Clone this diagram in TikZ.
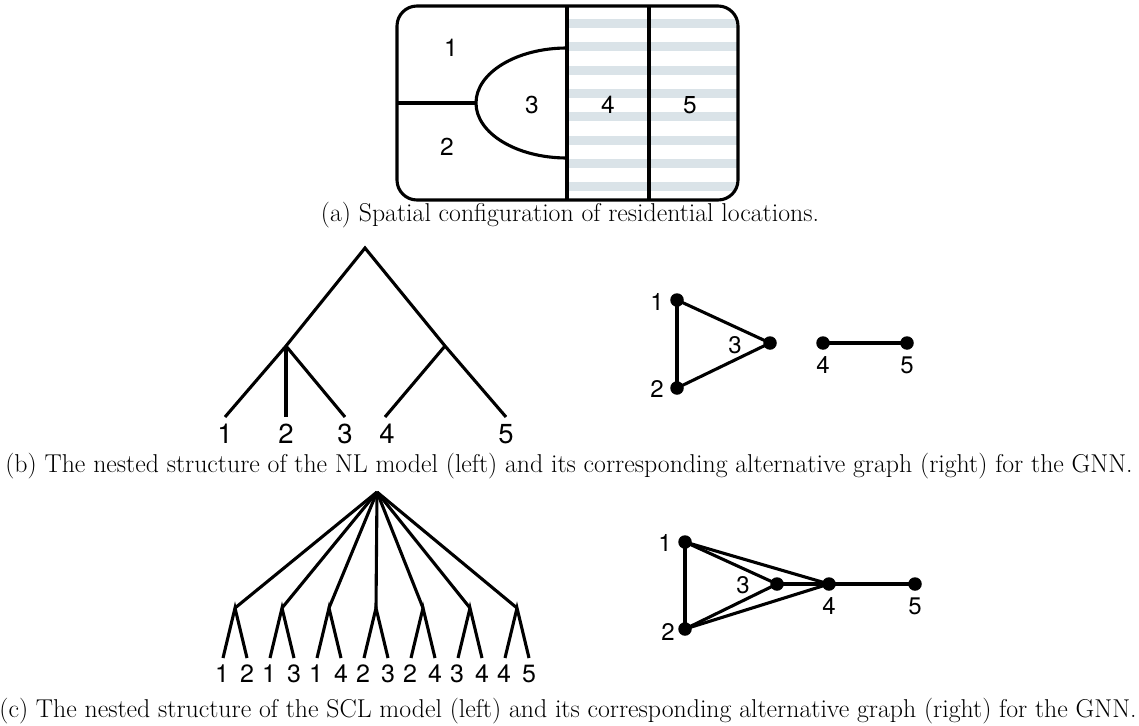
\documentclass[tikz,border=0pt]{standalone}
\usepackage{fontspec}
\newfontfamily\lab{TeX Gyre Heros}
\definecolor{stripe}{RGB}{218,227,232}
\begin{document}
\begin{tikzpicture}[x=1pt,y=-1pt,line width=3.1pt,
  lbla/.style={inner sep=0pt,font=\lab\fontsize{24.5}{24.5}\selectfont},
  lblb/.style={inner sep=0pt,font=\lab\fontsize{27.5}{27.5}\selectfont},
  lblg/.style={inner sep=0pt,font=\lab\fontsize{24}{24}\selectfont},
  lblc/.style={inner sep=0pt,font=\lab\fontsize{25}{25}\selectfont},
  dot/.style={circle,fill=black,inner sep=0pt,minimum size=13.5pt},
  capt/.style={inner sep=0pt,font=\fontsize{25.8}{30}\selectfont}]
\useasboundingbox (0,0) rectangle (1139,725);
% ---------- (a)
\begin{scope}
  \clip[rounded corners=20pt] (397,6) rectangle (738,200);
  \foreach \k in {0,...,7}
    \fill[stripe] (567,{19+23.3*\k}) rectangle (738,{28+23.3*\k});
\end{scope}
\draw[rounded corners=20pt] (397,6) rectangle (738,200);
\draw (567,6) -- (567,200);
\draw (649,6) -- (649,200);
\draw (397,103) -- (476,103);
\draw (567,48) arc[start angle=-90,end angle=-270,x radius=91,y radius=55];
\node[lbla] (a1) at (451,48) {1};
\node[lbla] (a2) at (447,147) {2};
\node[lbla] (a3) at (532,105) {3};
\node[lbla] (a4) at (608,105) {4};
\node[lbla] (a5) at (690,105) {5};
\node[capt] (capa) at (570,215) {(a) Spatial configuration of residential locations.};
% ---------- (b) tree
\coordinate (broot) at (365,248);
\coordinate (bL) at (286,346);
\coordinate (bR) at (445,346);
\coordinate (bl1) at (225,417);
\coordinate (bl2) at (286,417);
\coordinate (bl3) at (345,417);
\coordinate (bl4) at (385,417);
\coordinate (bl5) at (506,417);
\draw (bl1) -- (bL) -- (broot) -- (bR) -- (bl5);
\draw (bL) -- (bl2);
\draw (bL) -- (bl3);
\draw (bR) -- (bl4);
\node[lblb] (bt1) at (225,434) {1};
\node[lblb] (bt2) at (286,434) {2};
\node[lblb] (bt3) at (345,434) {3};
\node[lblb] (bt4) at (387,434) {4};
\node[lblb] (bt5) at (506,434) {5};
% ---------- (b) graph
\node[dot] (n1) at (677,300) {};
\node[dot] (n2) at (677,388) {};
\node[dot] (n3) at (770,343) {};
\node[dot] (n4) at (823,343) {};
\node[dot] (n5) at (907,343) {};
\draw (n1.center) -- (n2.center);
\draw (n1.center) -- (n3.center);
\draw (n2.center) -- (n3.center);
\draw (n4.center) -- (n5.center);
\node[lblg] (g1) at (657,302) {1};
\node[lblg] (g2) at (657,389) {2};
\node[lblg] (g3) at (735,345) {3};
\node[lblg] (g4) at (823,365) {4};
\node[lblg] (g5) at (907,365) {5};
\node[capt] (capb) at (569,466) {(b) The nested structure of the NL model (left) and its corresponding alternative graph (right) for the GNN.};
% ---------- (c) tree
\coordinate (croot) at (377,492);
\foreach \i/\a/\b in {0/1/2,1/1/3,2/1/4,3/2/3,4/2/4,5/3/4,6/4/5}{
  \coordinate (ci\i) at ({235+47*\i},608);
  \coordinate (cl\i) at ({223+47*\i},658);
  \coordinate (cr\i) at ({247+47*\i},658);
  \draw (croot) -- (ci\i);
  \draw (cl\i) -- (ci\i) -- (cr\i);
  \node[lblc] (ctl\i) at ({222+47*\i},674) {\a};
  \node[lblc] (ctr\i) at ({247+47*\i},674) {\b};
}
% ---------- (c) graph
\node[dot] (m1) at (685,542) {};
\node[dot] (m2) at (685,629) {};
\node[dot] (m3) at (777,584) {};
\node[dot] (m4) at (829,584) {};
\node[dot] (m5) at (915,584) {};
\draw (m1.center) -- (m2.center);
\draw (m1.center) -- (m3.center);
\draw (m1.center) -- (m4.center);
\draw (m2.center) -- (m3.center);
\draw (m2.center) -- (m4.center);
\draw (m3.center) -- (m4.center);
\draw (m4.center) -- (m5.center);
\node[lblg] (h1) at (665,543) {1};
\node[lblg] (h2) at (668,632) {2};
\node[lblg] (h3) at (743,585) {3};
\node[lblg] (h4) at (829,606) {4};
\node[lblg] (h5) at (915,606) {5};
\node[capt] (capc) at (568,711) {(c) The nested structure of the SCL model (left) and its corresponding alternative graph (right) for the GNN.};
\end{tikzpicture}
\end{document}
